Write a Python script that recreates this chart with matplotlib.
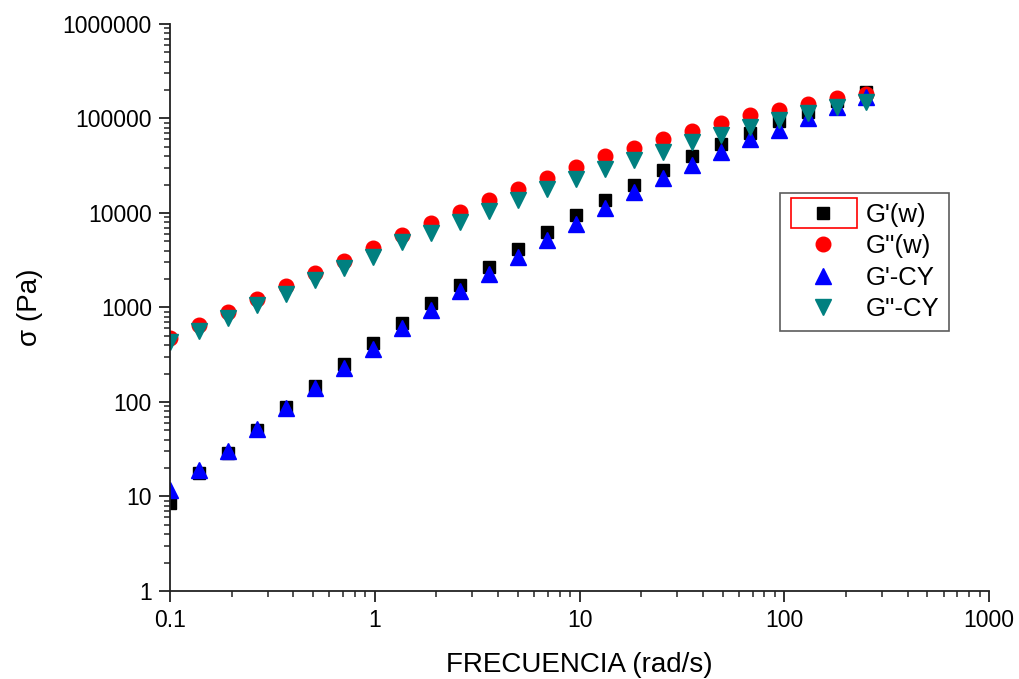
import matplotlib
matplotlib.use('Agg')
import matplotlib.pyplot as plt
from matplotlib.patches import Rectangle
from matplotlib.ticker import FixedLocator, FixedFormatter, LogLocator, NullFormatter

plt.rcParams['font.family'] = ['Liberation Sans', 'DejaVu Sans']

# frecuencia (rad/s)
frec = [0.1, 0.1386, 0.192, 0.2661, 0.3687, 0.5109, 0.7079, 0.981, 1.359, 1.884,
        2.61, 3.617, 5.012, 6.945, 9.624, 13.34, 18.48, 25.61, 35.48, 49.17,
        68.13, 94.41, 130.8, 181.3, 251.2]

# G'(w)
g1_w = [8.5, 17.8, 29, 51, 89, 148, 253, 424, 690, 1120,
        1740, 2700, 4190, 6320, 9600, 13800, 19900, 28700, 39600, 54300,
        70900, 93000, 118000, 152000, 190000]
# G''(w)
g2_w = [480, 660, 900, 1240, 1700, 2290, 3140, 4300, 5800, 7900,
        10300, 13800, 18000, 23700, 30300, 39600, 49300, 61300, 74600, 90500,
        108000, 124000, 144000, 163000, 180000]
# G'-CY
g1_cy = [11.7, 19, 30.3, 52, 87, 141, 230, 366, 600, 930,
         1480, 2280, 3460, 5200, 7700, 11400, 16500, 23700, 32500, 44600,
         60000, 76400, 102000, 131000, 170000]
# G''-CY
g2_cy = [435, 565, 780, 1070, 1400, 1930, 2640, 3460, 4880, 6200,
         8100, 10600, 13800, 18000, 23000, 29500, 36800, 44600, 56000, 67600,
         82200, 97500, 115000, 131000, 148000]

xticks = [0.1, 1, 10, 100, 1000]
xlabels = ['0.1', '1', '10', '100', '1000']
yticks = [1, 10, 100, 1000, 10000, 100000, 1000000]
ylabels = ['1', '10', '100', '1000', '10000', '100000', '1000000']

fig = plt.figure(figsize=(10.2, 6.79), dpi=100)
ax = fig.add_axes([0.1667, 0.1296, 0.8029, 0.8351])

ax.plot(frec, g1_w, 's', color='black', ms=9, ls='none', label="G'(w)")
ax.plot(frec, g2_w, 'o', color='red', ms=10.5, ls='none', label="G''(w)")
ax.plot(frec, g1_cy, '^', color='blue', ms=11, ls='none', label="G'-CY")
ax.plot(frec, g2_cy, 'v', color='#008080', ms=11, ls='none', label="G''-CY")

ax.set_xscale('log')
ax.set_yscale('log')
ax.set_xlim(0.1, 1000)
ax.set_ylim(1, 1000000)

ax.xaxis.set_major_locator(FixedLocator(xticks))
ax.xaxis.set_major_formatter(FixedFormatter(xlabels))
ax.yaxis.set_major_locator(FixedLocator(yticks))
ax.yaxis.set_major_formatter(FixedFormatter(ylabels))
ax.xaxis.set_minor_locator(LogLocator(base=10, subs=range(2, 10)))
ax.yaxis.set_minor_locator(LogLocator(base=10, subs=range(2, 10)))
ax.xaxis.set_minor_formatter(NullFormatter())
ax.yaxis.set_minor_formatter(NullFormatter())

ax.spines['top'].set_visible(False)
ax.spines['right'].set_visible(False)
for s in ['left', 'bottom']:
    ax.spines[s].set_linewidth(1.3)
    ax.spines[s].set_color('#222222')
ax.tick_params(which='major', length=8, width=1.3, labelsize=16.5, pad=5, color='#222222')
ax.tick_params(which='minor', length=4, width=1.1, color='#222222')

ax.set_xlabel('FRECUENCIA (rad/s)', fontsize=20, labelpad=14)
ax.set_ylabel('σ (Pa)', fontsize=20, labelpad=14)

leg = ax.legend(loc='upper left', bbox_to_anchor=(0.745, 0.702), borderaxespad=0,
                fontsize=18.5, frameon=True, fancybox=False, edgecolor='#333333',
                handlelength=2.57, handletextpad=0.35, borderpad=0.4, labelspacing=0.28)
leg.get_frame().set_linewidth(1.2)

# marco rojo de seleccion alrededor del primer simbolo
fig.patches.append(Rectangle((0.7755, 0.6642), 0.0647, 0.0442, transform=fig.transFigure,
                             fill=False, edgecolor='red', lw=1.2))

fig.savefig('out.png', dpi=100)
